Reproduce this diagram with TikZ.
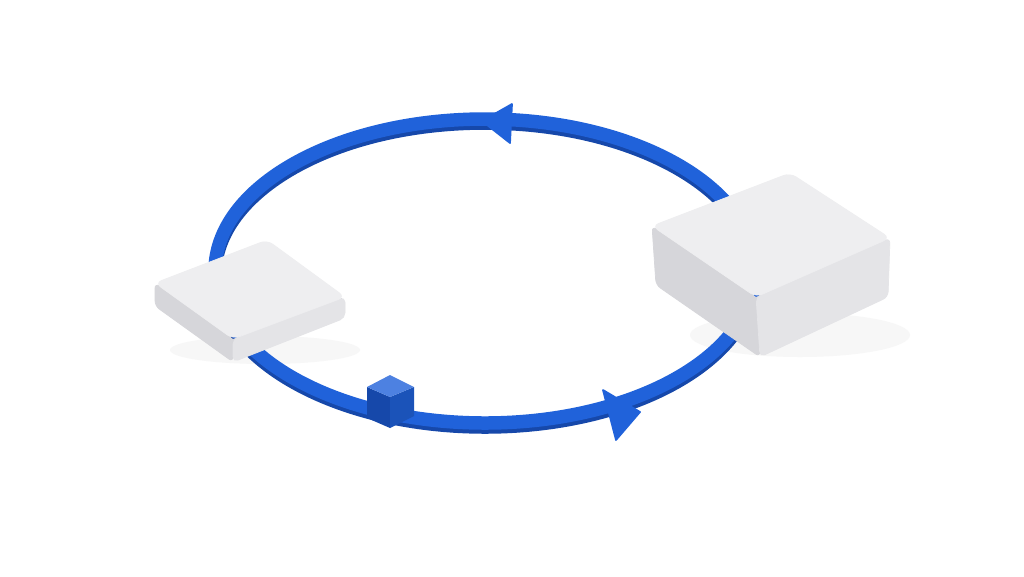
\documentclass[tikz,border=0pt]{standalone}
\begin{document}
\begin{tikzpicture}[x=0.02cm,y=-0.02cm,line join=round]
\definecolor{ringblue}{RGB}{32,98,218}
\definecolor{ringdark}{RGB}{22,72,170}
\definecolor{topg}{RGB}{238,238,240}
\definecolor{leftg}{RGB}{214,214,218}
\definecolor{rightg}{RGB}{228,228,231}
\tikzset{
  ring/.style={draw=ringblue,line width=0.27cm},
  ringshade/.style={draw=ringdark,line width=0.27cm},
  tip/.style={fill=ringblue,draw=ringblue,line width=1pt},
  top/.style={fill=topg,draw=topg,rounded corners=4pt},
  lface/.style={fill=leftg,draw=leftg,rounded corners=3pt},
  rface/.style={fill=rightg,draw=rightg,rounded corners=3pt},
  shadow/.style={fill=black!3}
}
\useasboundingbox (0,0) rectangle (1024,576);
\fill[white] (0,0) rectangle (1024,576);
% shadows
\fill[shadow] (265,350) ellipse (95 and 14);
\fill[shadow] (800,335) ellipse (110 and 22);
% ring
\draw[ringshade] (485,275) ellipse (270 and 152);
\draw[ring] (485,271) ellipse (270 and 152);
% arrowheads
\path[tip] (482,121) -- (512,104) -- (510,143) -- cycle;
\path[tip] (640,412) -- (603,390) -- (616,440) -- cycle;
% small cube
\path[fill=ringdark] (367,387) -- (367,418) -- (390,428) -- (390,397) -- cycle;
\path[fill=ringblue!85!black] (390,397) -- (390,428) -- (414,416) -- (414,387) -- cycle;
\path[fill=ringblue!80!white] (367,387) -- (390,375) -- (414,387) -- (390,397) -- cycle;
% left box
\fill[leftg] (158,285) -- (158,304) -- (233,358) -- (342,316) -- (342,298) -- (233,339) -- cycle;
\path[lface] (155,283) -- (155,306) -- (233,362) -- (233,339) -- cycle;
\path[rface] (233,339) -- (233,362) -- (345,318) -- (345,297) -- cycle;
\path[top] (155,283) -- (267,240) -- (345,297) -- (233,339) -- cycle;
% right box
\fill[leftg] (655,228) -- (658,283) -- (758,353) -- (886,295) -- (887,240) -- (756,297) -- cycle;
\path[lface] (652,226) -- (656,285) -- (760,357) -- (756,297) -- cycle;
\path[rface] (756,297) -- (760,357) -- (888,297) -- (890,238) -- cycle;
\path[top] (652,226) -- (790,173) -- (890,238) -- (756,297) -- cycle;
\end{tikzpicture}
\end{document}
